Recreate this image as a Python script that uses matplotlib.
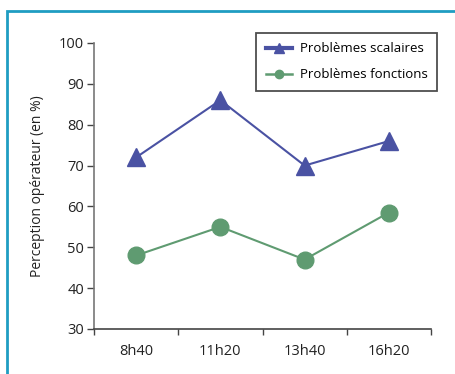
import matplotlib
matplotlib.use("Agg")
import matplotlib.pyplot as plt
from matplotlib.patches import Rectangle

categories = ["8h40", "11h20", "13h40", "16h20"]
scalaires = [72, 86, 70, 76]
fonctions = [48, 55, 47, 58.5]
yticks = [30, 40, 50, 60, 70, 80, 90, 100]

plt.rcParams['font.family'] = ['Open Sans', 'DejaVu Sans']

W, H = 455, 374
fig = plt.figure(figsize=(W/100, H/100), dpi=100)
ax = fig.add_axes([94/W, 1-329/H, (431-94)/W, (329-43)/H])

# teal frame
fig.patches.append(Rectangle((7/W, -0.1), 1.2, 1-11/H+0.1, transform=fig.transFigure,
                             fill=False, edgecolor='#1f9dc2', linewidth=2.0))

blue = '#4a52a3'
green = '#5f9b71'
x = list(range(len(categories)))
ax.plot(x, scalaires, color=blue, lw=1.5, marker='^', ms=12.5, mec=blue, mfc=blue, zorder=3)
ax.plot(x, fonctions, color=green, lw=1.5, marker='o', ms=12, mec=green, mfc=green, zorder=3)

# legend handles
h1, = ax.plot([], [], color=blue, lw=3, marker='^', ms=7, mec=blue, mfc=blue, label='Problèmes scalaires')
h2, = ax.plot([], [], color=green, lw=1.8, marker='o', ms=6, mec=green, mfc=green, label='Problèmes fonctions')

ax.set_xlim(-0.5, len(categories)-0.5)
ax.set_ylim(30, 100)
ax.set_yticks(yticks)
ax.set_xticks([i-0.5 for i in range(len(categories)+1)])
ax.set_xticklabels([])
ax.set_xticks(x, minor=True)
ax.set_xticklabels(categories, minor=True)
ax.tick_params(axis='x', which='minor', length=0, pad=11, labelsize=10.5, colors='#222222')
ax.tick_params(axis='x', which='major', length=4, width=1, color='#444444', direction='out')
ax.tick_params(axis='y', length=5, width=1, color='#444444', pad=2, labelsize=10.5, labelcolor='#222222')

for s in ['top', 'right']:
    ax.spines[s].set_visible(False)
ax.spines['left'].set_color('#777777')
ax.spines['bottom'].set_color('#444444')
ax.spines['left'].set_linewidth(1.2)
ax.spines['bottom'].set_linewidth(1.2)

ax.set_ylabel('Perception opérateur (en %)', fontsize=10, color='#222222', labelpad=10)

leg = ax.legend(handles=[h1, h2], loc='upper right', bbox_to_anchor=(437/W, 1-33/H),
                bbox_transform=fig.transFigure,
                frameon=True, fancybox=False, fontsize=9.5,
                handlelength=2.0, handletextpad=0.6, borderpad=0.7, labelspacing=1.0,
                borderaxespad=0)
leg.get_frame().set_edgecolor('#222222')
leg.get_frame().set_linewidth(1.3)

fig.savefig('out.png', dpi=100)
